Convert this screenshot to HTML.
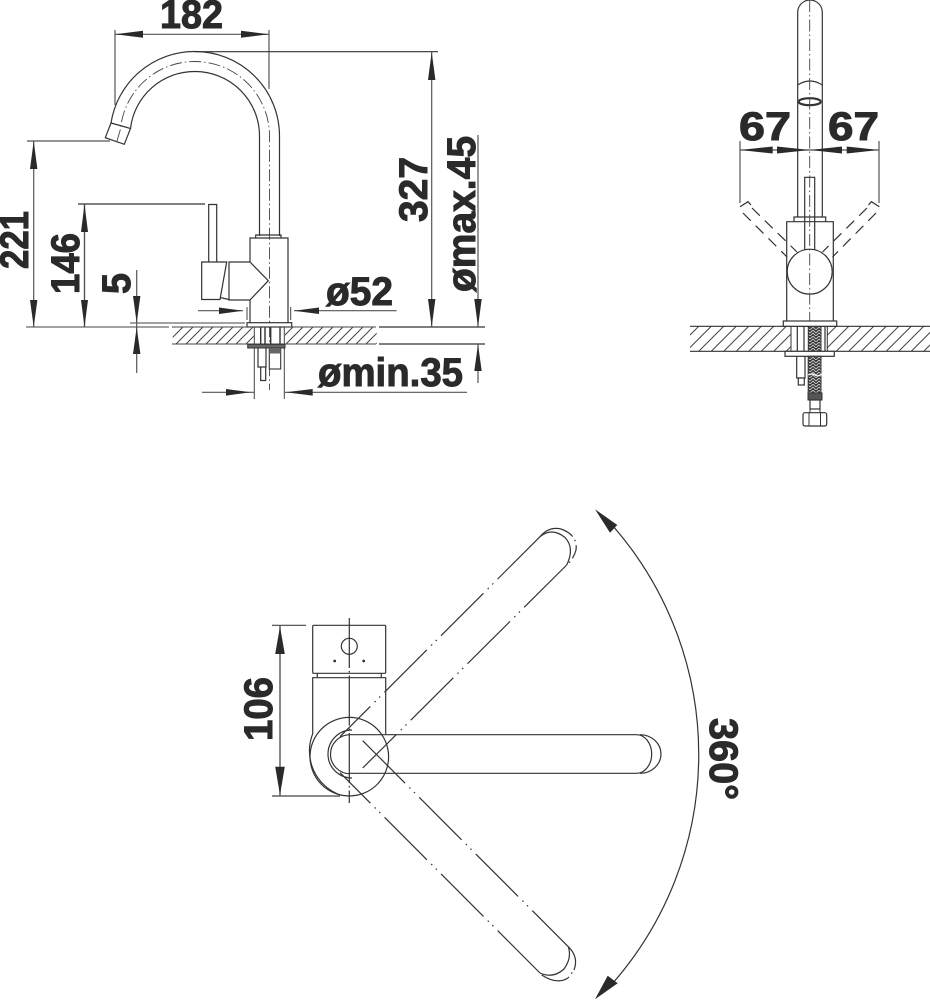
<!DOCTYPE html>
<html><head><meta charset="utf-8"><style>
html,body{margin:0;padding:0;background:#fff;width:930px;height:1000px;overflow:hidden}
svg{display:block}
text{font-family:"Liberation Sans",sans-serif;font-weight:bold;font-size:40px;fill:#2b2a2a;stroke:#2b2a2a;stroke-width:1}
.l{fill:none;stroke:#333;stroke-width:1.2}
.t{fill:none;stroke:#444;stroke-width:1}
.d{fill:none;stroke:#555;stroke-width:1.2}
.c{fill:none;stroke:#444;stroke-width:.9;stroke-dasharray:12 3 1.5 3}
.h{fill:none;stroke:#333;stroke-width:1.2;stroke-dasharray:60 6 1.5 5 1.5 6}
.s{fill:none;stroke:#333;stroke-width:1.2;stroke-dasharray:11 7}
.a{fill:#2b2a2a;stroke:none}
</style></head><body>
<svg xmlns="http://www.w3.org/2000/svg" width="930" height="1000" viewBox="0 0 930 1000">
<defs>
<pattern id="h1" patternUnits="userSpaceOnUse" width="10" height="10"><path d="M-1 11L11 -1M-6 6L6 -6M4 16L16 4" stroke="#444" stroke-width="1" fill="none"/></pattern>
<pattern id="h2" patternUnits="userSpaceOnUse" width="12.5" height="12.5"><path d="M-1 13.5L13.5 -1M-7 7L7 -7M5.5 19.5L19.5 5.5" stroke="#444" stroke-width="1" fill="none"/></pattern>
<pattern id="b" patternUnits="userSpaceOnUse" width="6" height="6"><rect width="6" height="6" fill="#333"/><path d="M0 3L3 0L6 3M0 6L3 3L6 6" stroke="#ccc" stroke-width=".9" fill="none"/></pattern>
</defs>

<!-- LEFT ELEVATION -->
<path class="l" d="M111 123A84.500 84.500 0 0 1 195 51.500A84.500 84.500 0 0 1 279.500 136V236"/>
<path class="l" d="M130.500 128.500A64.500 64.500 0 0 1 195 71.500A64.500 64.500 0 0 1 259.500 136V236"/>
<path class="c" d="M117 141L120.500 129A74.500 74.500 0 0 1 195 61.500A74.500 74.500 0 0 1 269.500 136V390"/>
<path class="l" d="M111 123L130.500 128.500L124.300 144.300L105.300 137.700Z"/>
<path class="l" d="M255.700 238V235H281V238"/>
<path class="l" d="M250 262V238H288V322.700"/>
<path class="l" d="M250 322.700V300"/>
<path class="l" d="M229 262H250L268.300 280.700L250 300H229Z"/>
<path class="l" d="M201.700 262H226.700L220 299.500H201.700Z"/>
<path class="l" d="M220 297.500L229 299.500"/>
<path class="l" d="M208.700 262V204.500H216.700V262"/>
<rect x="247" y="322.700" width="44.700" height="4.300" fill="#fff" stroke="#333" stroke-width="1.2"/>

<rect x="172.700" y="327" width="81.300" height="17" fill="url(#h1)"/>
<rect x="285" y="327" width="91.700" height="17" fill="url(#h1)"/>
<path class="t" d="M172 327H254M285 327H376M172 344H376"/>
<path class="l" d="M379 327H485M379 344H485"/>
<path class="t" d="M254.300 327V399M284.300 327V399"/>
<path class="l" d="M260.700 327V344M265 327V344M270.700 327V344M280 327V344" style="stroke-width:1.4"/>
<rect x="247.700" y="344.300" width="37.300" height="3.700" fill="#666" stroke="#333"/>
<path class="l" d="M258 348V367H266V348"/>
<path class="l" d="M260.700 367V380.500H265.700V367"/>
<rect x="269.300" y="348" width="11.400" height="21" fill="#fff" stroke="#333" stroke-width="1.100"/>
<rect x="269.300" y="348" width="11.400" height="5.500" fill="#666"/>

<!-- left dims -->
<path class="d" d="M115 30V105M269 30V89M115 34.300H269"/>
<polygon class="a" points="115,34.300 143,30.800 143,37.800"/>
<polygon class="a" points="269,34.300 241,30.800 241,37.800"/>
<text x="160" y="28" textLength="63" lengthAdjust="spacingAndGlyphs">182</text>
<path class="l" d="M195 51.700H438"/>

<path class="d" d="M27 141H110M33.700 141V327"/>
<polygon class="a" points="33.700,141 30,169 37.400,169"/>
<polygon class="a" points="33.700,327 30,300 37.400,300"/>
<path class="t" d="M26 327H169"/>
<path class="t" d="M130 323H245"/>
<path class="d" d="M78 204H205M84.500 204V327" style="stroke-width:1.400"/>
<polygon class="a" points="84.500,204 81,232 88,232"/>
<polygon class="a" points="84.500,327 81,300 88,300"/>
<path class="d" d="M136.700 270V373"/>
<polygon class="a" points="136.700,323 133,296 140.400,296"/>
<polygon class="a" points="136.700,327 133,354 140.400,354"/>

<path class="d" d="M198 310.700H243M294 310.700H396.700"/>
<path class="t" d="M247 307V320M290.700 307V320"/>
<polygon class="a" points="243,310.700 219,307.500 219,314"/>
<polygon class="a" points="294,310.700 319,307.500 319,314"/>
<text x="326" y="305" textLength="67" lengthAdjust="spacingAndGlyphs">ø52</text>

<path class="d" d="M202 392.300H254M284 392.300H467"/>
<polygon class="a" points="250.700,392.300 226,389 226,395.600"/>
<polygon class="a" points="285.700,392.300 312.700,389 312.700,395.600"/>
<text x="318" y="386" textLength="145" lengthAdjust="spacingAndGlyphs">ømin.35</text>

<path class="d" d="M431.700 52V327"/>
<polygon class="a" points="431.700,52 428,80 435.400,80"/>
<polygon class="a" points="431.700,327 428,299 435.400,299"/>
<path class="d" d="M478 135V327M478 344V383"/>
<polygon class="a" points="478,327 474.300,299 481.700,299"/>
<polygon class="a" points="478,344.300 474.300,371 481.700,371"/>

<text transform="translate(28 269) rotate(-90)" textLength="58" lengthAdjust="spacingAndGlyphs">221</text>
<text transform="translate(79 294) rotate(-90)" textLength="61" lengthAdjust="spacingAndGlyphs">146</text>
<text transform="translate(130 294) rotate(-90)" textLength="21" lengthAdjust="spacingAndGlyphs">5</text>
<text transform="translate(427 222) rotate(-90)" textLength="65" lengthAdjust="spacingAndGlyphs">327</text>
<text transform="translate(475 292) rotate(-90)" textLength="156" lengthAdjust="spacingAndGlyphs">ømax.45</text>

<!-- RIGHT ELEVATION -->
<path class="l" d="M797.700 217V12.300A12.300 12.300 0 0 1 822.300 12.300V217"/>
<path class="l" d="M797.700 85Q810 77 822.300 85"/>
<ellipse cx="809.700" cy="101.700" rx="11" ry="3.500" fill="#fff" stroke="#333" stroke-width="2.200"/>
<path class="l" d="M794 222V217H825.700V222"/>
<path class="l" d="M786.700 321V221.700H833.300V321"/>
<path class="l" d="M804.700 250V177.300H814.700V250"/>
<circle cx="809.700" cy="271.700" r="22.500" fill="#fff" stroke="#333" stroke-width="1.200"/>
<path class="c" d="M809.700 0V326"/>
<path class="s" d="M743 213L787 257M752 208L797 252M876 213L832.500 257M867 208L822.500 252"/>
<path class="l" d="M740 206.700L748 201.700L751 205M879.400 206.700L871.400 201.700L868.400 205"/>
<path class="d" d="M740 141V203M879 141V203M740 150H879"/>
<polygon class="a" points="740,150 772.700,146.500 772.700,153.500"/>
<polygon class="a" points="810,150 777,146.500 777,153.500"/>
<polygon class="a" points="810,150 842,146.500 842,153.500"/>
<polygon class="a" points="879,150 846.700,146.500 846.700,153.500"/>
<text x="739" y="140" textLength="52" lengthAdjust="spacingAndGlyphs">67</text>
<text x="828" y="140" textLength="51" lengthAdjust="spacingAndGlyphs">67</text>

<rect x="690" y="326.300" width="101" height="25" fill="url(#h2)"/>
<rect x="827.300" y="326.300" width="102.700" height="25" fill="url(#h2)"/>
<path class="l" d="M690 326.300H930M690 351.300H930"/>
<rect x="791" y="326.300" width="36.300" height="25" fill="#fff" stroke="#333" stroke-width="1"/>
<path class="l" d="M797.300 326V351M804 326V351M825 326V351"/>
<rect x="808.300" y="326" width="12.700" height="67" fill="url(#b)" stroke="#333" stroke-width="1"/>
<rect x="783.300" y="321" width="53.400" height="5.300" fill="#fff" stroke="#333" stroke-width="1.200"/>
<rect x="785" y="351.300" width="49.300" height="5" fill="#fff" stroke="#333" stroke-width="1.200"/>
<rect x="808.300" y="356.300" width="12.700" height="37" fill="url(#b)" stroke="#333" stroke-width="1"/>
<path d="M808 375Q812 373 815 375T822 374" stroke="#fff" stroke-width="1.200" fill="none"/>
<path class="l" d="M796.700 356.300V378H805V356.300"/>
<rect x="798.300" y="378" width="6" height="7" fill="#fff" stroke="#333" stroke-width="1.200"/>
<rect x="808" y="393" width="14" height="7" fill="#555" stroke="#333"/>
<rect x="810" y="400" width="10" height="9" fill="#fff" stroke="#333" stroke-width="1.200"/>
<rect x="803" y="412.700" width="23.700" height="13.300" rx="2" fill="#fff" stroke="#333" stroke-width="1.200"/>
<path class="l" d="M810 409V412.700M820 409V412.700M809 412.700V426M820.500 412.700V426" style="stroke-width:1"/>

<!-- PLAN VIEW -->
<rect x="312.700" y="625.300" width="73" height="48" rx="1" class="l"/>
<circle cx="349.300" cy="646.300" r="8" class="l"/>
<circle cx="334.700" cy="661" r="1.400" fill="#333"/>
<circle cx="363.700" cy="661" r="1.400" fill="#333"/>
<path class="l" d="M317.300 673.300V677.700M381.300 673.300V677.700"/>
<path class="l" d="M312.700 733V677.700H385.700V734"/>
<path class="h" style="stroke-dasharray:50 3 1.500 3" d="M349.300 618V803"/>

<circle cx="349.300" cy="756.700" r="39.300" class="l"/>
<path class="l" d="M313 733A47 47 0 0 0 340 795"/>
<path class="l" d="M352 730A24 24 0 1 0 352 778"/>
<path class="l" d="M350 734.700A19.500 19.500 0 0 0 350 773.700"/>

<path class="l" d="M350 734.700H636.700A15 19.300 0 0 1 636.700 773.300H350"/>
<path class="l" d="M640 734.700A21 19.300 0 0 1 640 773.300"/>

<!-- upper rotated handle -->
<path class="h" d="M540 536.700L340 736.700"/>
<path class="h" d="M566.700 565L362.700 768"/>
<path class="l" d="M540 536.700Q552 527 565 537.500Q575 548 566.700 565"/>
<path class="l" d="M540 536.700Q549 526 561 529"/>
<path class="l" style="stroke-dasharray:14 4 1.500 4" d="M561 529Q578 535 576 550Q574 558 567 565"/>

<!-- lower rotated handle -->
<path class="h" d="M362.700 740.700L568.300 946.700"/>
<path class="h" d="M540 973L340 772.700"/>
<path class="l" d="M540 973Q553 979 564 969Q572 958 568.300 946.700"/>
<path class="l" d="M541.700 975Q557 985 568 978"/>
<path class="l" style="stroke-dasharray:1.500 4" d="M568 978L574 970"/>
<path class="l" d="M574 970Q579 957 568.300 946.700"/>

<!-- 106 -->
<path class="l" d="M272 625.300H306M272 796H340" style="stroke:#444"/>
<path class="d" d="M280 626V796" style="stroke-width:1.400"/>
<polygon class="a" points="280,626.500 275.200,654 284.800,654"/>
<polygon class="a" points="280,795 275.200,766.700 284.800,766.700"/>
<text transform="translate(272 741) rotate(-90)" textLength="64" lengthAdjust="spacingAndGlyphs">106</text>

<!-- 360 arc -->
<path class="t" style="stroke:#333;stroke-width:1.200" d="M612 525A347 347 0 0 1 612 984"/>
<polygon class="a" points="595,509.300 610,532.700 617.300,525"/>
<polygon class="a" points="595,999.300 607.700,975.700 617.700,983.300"/>
<text transform="translate(710 718) rotate(90)" textLength="82" lengthAdjust="spacingAndGlyphs">360°</text>
</svg>
</body></html>
